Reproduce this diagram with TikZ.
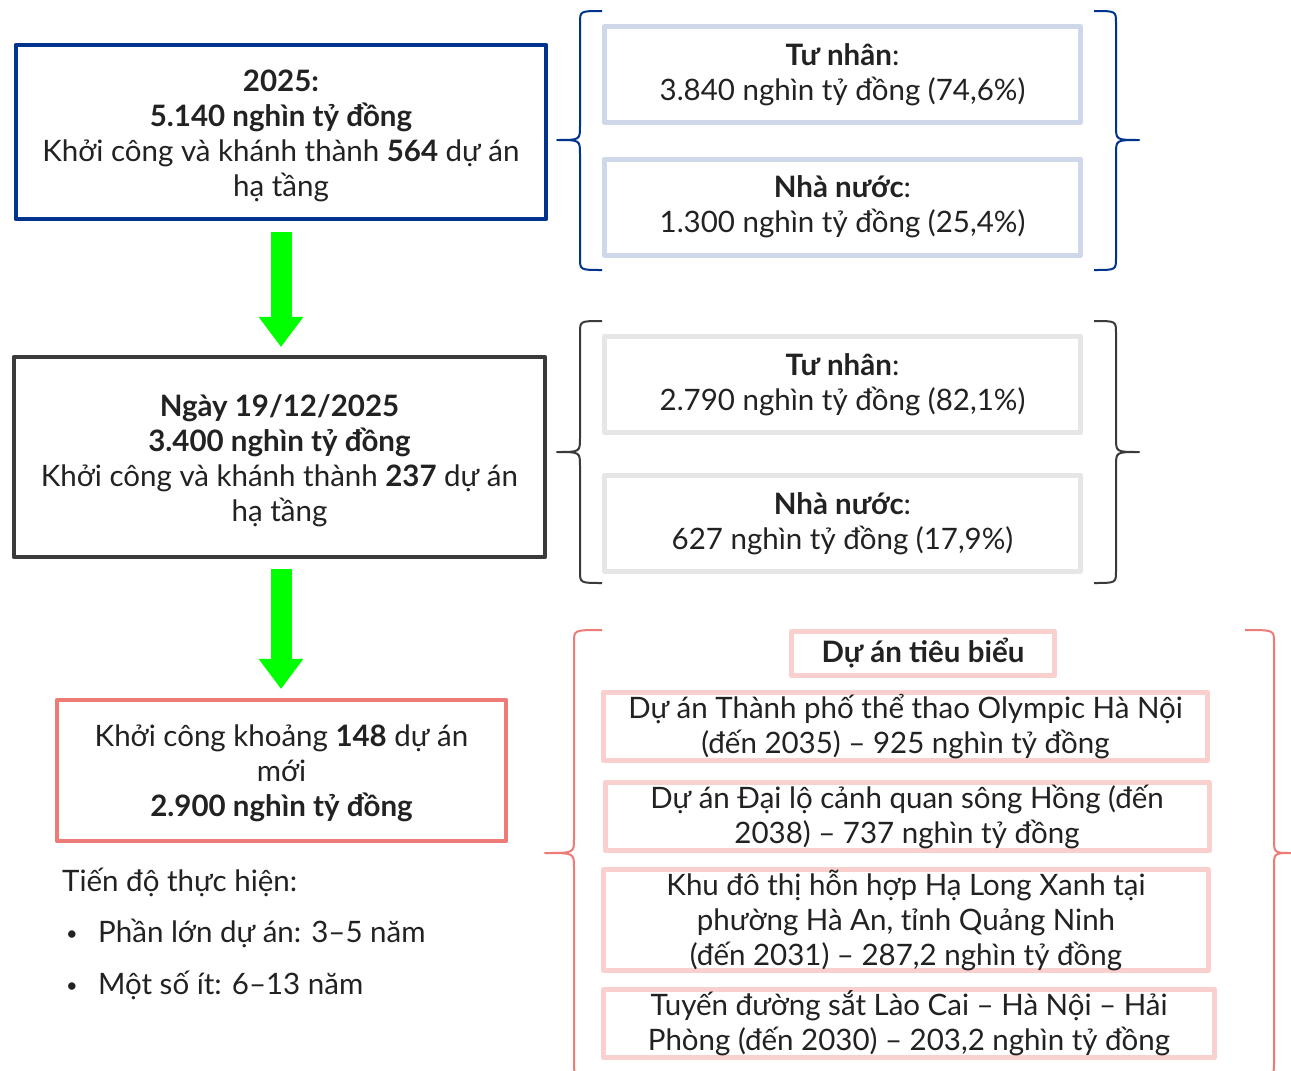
\documentclass[tikz,border=0pt]{standalone}
\usepackage{fontspec}
\setmainfont{Lato}
\usetikzlibrary{arrows.meta}
\definecolor{txt}{HTML}{222222}
\definecolor{bluebox}{HTML}{00338D}
\definecolor{darkbox}{HTML}{3A3A3A}
\definecolor{salmonbox}{HTML}{EC7C75}
\definecolor{lightbluebox}{HTML}{CFD8EA}
\definecolor{lightgraybox}{HTML}{E6E6E6}
\definecolor{pinkbox}{HTML}{F9D0CE}
\definecolor{arrowgreen}{HTML}{00FF00}
% style, x vertical, x end, x tip, y top, y mid, y bottom
\newcommand\mybrace[7]{%
  \draw[#1] (#3,#5) .. controls (#2,#5) .. (#2,{#5+12}) -- (#2,{#6-14})
    .. controls (#2,#6) .. (#4,#6) .. controls (#2,#6) .. (#2,{#6+14})
    -- (#2,{#7-12}) .. controls (#2,#7) .. (#3,#7);}
\tikzset{
  basetext/.style={font=\fontsize{29.5}{35}\selectfont, text=txt, align=center, inner sep=0pt},
  box/.style={basetext, draw, rectangle, line width=4.5pt},
  bigarrow/.style={draw=arrowgreen, line width=21pt, line cap=butt,
    -{Triangle[width=45pt,length=30pt,line width=0pt,fill=arrowgreen]}},
  bracestyle/.style={line width=2pt},
  bulletstyle/.style={font=\fontsize{20}{35}\selectfont, text=txt, inner sep=0pt},
}
\begin{document}
\begin{tikzpicture}[x=1pt,y=-1pt,line join=round]
\useasboundingbox (0,0) rectangle (1291,1071);
\fill[white] (0,0) rectangle (1291,1071);
\clip (0,0) rectangle (1291,1071);

% left column
\node[box, draw=bluebox, minimum width=530pt, minimum height=174pt] (y2025) at (281,132) {};
\node[basetext] (y2025t) at ([yshift=-3.5pt]y2025.center)
  {\textbf{2025:}\\\textbf{5.140 nghìn tỷ đồng}\\Khởi công và khánh thành \textbf{564} dự án\\hạ tầng};
\node[box, draw=darkbox, minimum width=531pt, minimum height=200pt] (d1912) at (279.5,457) {};
\node[basetext] (d1912t) at ([yshift=-4pt]d1912.center)
  {\textbf{Ngày 19/12/2025}\\\textbf{3.400 nghìn tỷ đồng}\\Khởi công và khánh thành \textbf{237} dự án\\hạ tầng};
\node[box, draw=salmonbox, minimum width=449pt, minimum height=141pt] (newp) at (281.5,770.5) {};
\node[basetext] (newpt) at ([yshift=-3pt]newp.center)
  {Khởi công khoảng \textbf{148} dự án\\mới\\\textbf{2.900 nghìn tỷ đồng}};

\draw[bigarrow, shorten <=11pt, shorten >=8pt] (y2025.south -| 281,0) -- (d1912.north -| 281,0);
\draw[bigarrow, shorten <=10pt, shorten >=9pt] (d1912.south -| 281,0) -- (newp.north -| 281,0);

\node[basetext, anchor=base west] (prog) at (62,891) {Tiến độ thực hiện:};
\node[bulletstyle, anchor=base west] (bul1) at (66,940) {•};
\node[basetext, anchor=base west] (it1) at (98,942) {Phần lớn dự án: 3–5 năm};
\node[bulletstyle, anchor=base west] (bul2) at (66,992) {•};
\node[basetext, anchor=base west] (it2) at (98,994) {Một số ít: 6–13 năm};

% group 1
\mybrace{bracestyle, draw=bluebox}{580}{602}{557}{11}{140}{270}
\mybrace{bracestyle, draw=bluebox}{1116}{1094}{1139}{11}{140}{270}
\node[box, draw=lightbluebox, line width=5pt, minimum width=476pt, minimum height=96pt] (tn1) at (842.5,74.5)
  {\textbf{Tư nhân}:\\3.840 nghìn tỷ đồng (74,6\%)};
\node[box, draw=lightbluebox, line width=5pt, minimum width=476pt, minimum height=96pt] (nn1) at (842.5,207)
  {\textbf{Nhà nước}:\\1.300 nghìn tỷ đồng (25,4\%)};

% group 2
\mybrace{bracestyle, draw=darkbox}{580}{602}{557}{321}{452}{583}
\mybrace{bracestyle, draw=darkbox}{1116}{1094}{1139}{321}{452}{583}
\node[box, draw=lightgraybox, line width=5pt, minimum width=476pt, minimum height=96pt] (tn2) at (842.5,384.5)
  {\textbf{Tư nhân}:\\2.790 nghìn tỷ đồng (82,1\%)};
\node[box, draw=lightgraybox, line width=5pt, minimum width=476pt, minimum height=96pt] (nn2) at (842.5,523.5)
  {\textbf{Nhà nước}:\\627 nghìn tỷ đồng (17,9\%)};

% group 3
\mybrace{bracestyle, draw=salmonbox}{574}{602}{545}{630}{853}{1076}
\mybrace{bracestyle, draw=salmonbox}{1274}{1245}{1292}{630}{853}{1076}
\node[box, draw=pinkbox, line width=5pt, minimum width=263pt, minimum height=44pt] (title) at (923,653.5)
  {\textbf{Dự án tiêu biểu}};
\node[box, draw=pinkbox, line width=5pt, minimum width=604pt, minimum height=68pt] (pE) at (905.5,726.5)
  {Dự án Thành phố thể thao Olympic Hà Nội\\(đến 2035) – 925 nghìn tỷ đồng};
\node[box, draw=pinkbox, line width=5pt, minimum width=604pt, minimum height=68pt] (pF) at (907,816.5)
  {Dự án Đại lộ cảnh quan sông Hồng (đến\\2038) – 737 nghìn tỷ đồng};
\node[box, draw=pinkbox, line width=5pt, minimum width=605pt, minimum height=95pt] (pG) at (906,920)
  {Khu đô thị hỗn hợp Hạ Long Xanh tại\\phường Hà An, tỉnh Quảng Ninh\\(đến 2031) – 287,2 nghìn tỷ đồng};
\node[box, draw=pinkbox, line width=5pt, minimum width=611pt, minimum height=68pt] (pH) at (909,1023.5)
  {Tuyến đường sắt Lào Cai – Hà Nội – Hải\\Phòng (đến 2030) – 203,2 nghìn tỷ đồng};
\end{tikzpicture}
\end{document}
